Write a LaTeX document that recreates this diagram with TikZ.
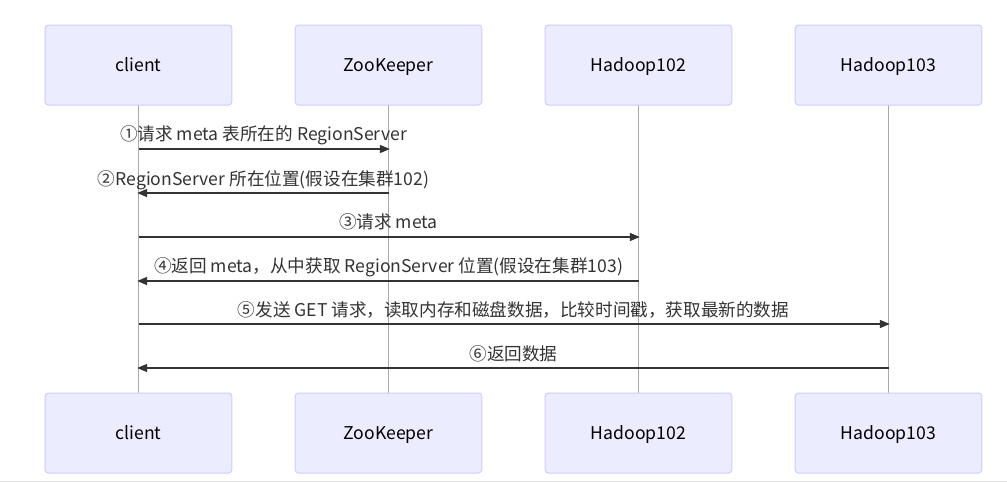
\documentclass[tikz,border=0pt]{standalone}
\usepackage{fontspec}
\setmainfont{Noto Sans CJK SC}
\usetikzlibrary{arrows.meta, positioning}
\definecolor{actfill}{HTML}{ECECFF}
\definecolor{actline}{HTML}{CCCCFF}
\definecolor{lifegray}{HTML}{AAAAAA}
\definecolor{msgdark}{HTML}{333333}
\definecolor{edgegray}{HTML}{E0E0E0}
\begin{document}
\begin{tikzpicture}[
  x=0.75pt, y=-0.75pt,
  every node/.style={font=\fontsize{13.2}{15}\selectfont, text=black},
  actorbox/.style={rectangle, rounded corners=2.5pt, draw=actline, fill=actfill, line width=0.75pt, minimum width=140pt, minimum height=60pt, inner sep=0pt, text height=11pt, text depth=1.5pt},
  lifeline/.style={draw=lifegray, line width=0.6pt},
  msgarrow/.style={draw=msgdark, line width=1.1pt, -{Triangle[length=7.5pt, width=6pt]}, shorten >=-1pt},
  msglabel/.style={text=msgdark, inner sep=0pt, text height=9.5pt, text depth=3pt, yshift=-1.5pt},
]
\useasboundingbox (0,0) rectangle (1007,482);
\draw[edgegray, line width=0.75pt] (0,481) -- (1007,481);

% lifelines first, boxes on top
\coordinate (cT) at (138.5,105); \coordinate (cB) at (138.5,393);
\coordinate (zT) at (388.5,105); \coordinate (zB) at (388.5,393);
\coordinate (hT) at (638.5,105); \coordinate (hB) at (638.5,393);
\coordinate (gT) at (888.5,105); \coordinate (gB) at (888.5,393);
\draw[lifeline] (cT) -- (cB);
\draw[lifeline] (zT) -- (zB);
\draw[lifeline] (hT) -- (hB);
\draw[lifeline] (gT) -- (gB);

\node[actorbox] (client) at (138.5,65) {client};
\node[actorbox] (zk) at (388.5,65) {ZooKeeper};
\node[actorbox] (h102) at (638.5,65) {Hadoop102};
\node[actorbox] (h103) at (888.5,65) {Hadoop103};

\node[actorbox] (client2) at (138.5,433) {client};
\node[actorbox] (zk2) at (388.5,433) {ZooKeeper};
\node[actorbox] (h1022) at (638.5,433) {Hadoop102};
\node[actorbox] (h1032) at (888.5,433) {Hadoop103};

% messages
\coordinate (m1a) at (138.5,149); \coordinate (m1b) at (388.5,149);
\coordinate (m2a) at (388.5,193); \coordinate (m2b) at (138.5,193);
\coordinate (m3a) at (138.5,237); \coordinate (m3b) at (638.5,237);
\coordinate (m4a) at (638.5,281); \coordinate (m4b) at (138.5,281);
\coordinate (m5a) at (138.5,324); \coordinate (m5b) at (888.5,324);
\coordinate (m6a) at (888.5,368); \coordinate (m6b) at (138.5,368);

\draw[msgarrow] (m1a) -- (m1b);
\node[msglabel] (t1) at (263.5,134) {①请求 meta 表所在的 RegionServer};
\draw[msgarrow] (m2a) -- (m2b);
\node[msglabel] (t2) at (263.5,179) {②RegionServer 所在位置(假设在集群102)};
\draw[msgarrow] (m3a) -- (m3b);
\node[msglabel] (t3) at (388.5,222) {③请求 meta};
\draw[msgarrow] (m4a) -- (m4b);
\node[msglabel] (t4) at (388.5,266) {④返回 meta，从中获取 RegionServer 位置(假设在集群103)};
\draw[msgarrow] (m5a) -- (m5b);
\node[msglabel] (t5) at (513.5,310) {⑤发送 GET 请求，读取内存和磁盘数据，比较时间戳，获取最新的数据};
\draw[msgarrow] (m6a) -- (m6b);
\node[msglabel] (t6) at (513.5,354) {⑥返回数据};

\end{tikzpicture}
\end{document}
